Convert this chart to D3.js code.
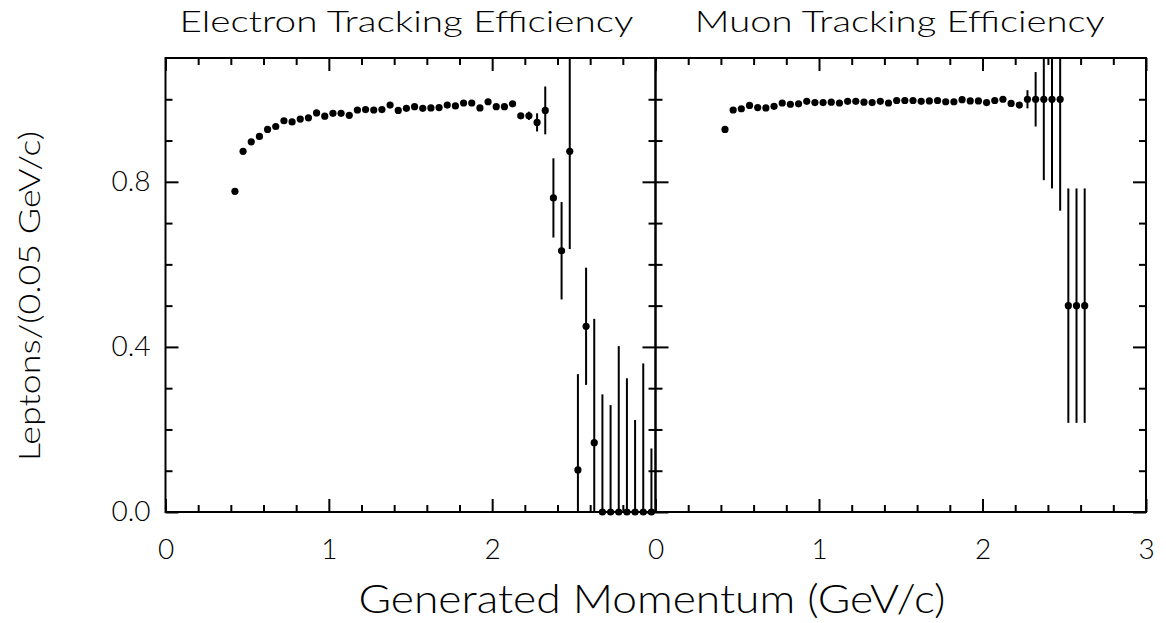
<!DOCTYPE html>
<html>
<head>
<meta charset="utf-8">
<script src="https://cdn.jsdelivr.net/npm/d3@7"></script>
<style>
  html, body { margin: 0; padding: 0; background: #fff; }
  svg { display: block; }
  text { font-family: Lato, "Open Sans", "DejaVu Sans", sans-serif; font-weight: 300; fill: #000; }
  .tick line { stroke: #000; stroke-width: 2; }
</style>
</head>
<body>
<svg id="chart" width="1166" height="623"></svg>
<script>
// Bin centres, momentum in GeV/c (bins of 0.05 GeV/c)
const electronP = [0.425,0.475,0.525,0.575,0.625,0.675,0.725,0.775,0.825,0.875,0.925,0.975,
  1.025,1.075,1.125,1.175,1.225,1.275,1.325,1.375,1.425,1.475,1.525,1.575,1.625,1.675,1.725,
  1.775,1.825,1.875,1.925,1.975,2.025,2.075,2.125,2.175,2.225,2.275,2.325,2.375,2.425,2.475,
  2.525,2.575,2.625,2.675,2.725,2.775,2.825,2.875,2.925,2.975];
const electronEff = [0.777,0.874,0.897,0.910,0.927,0.934,0.948,0.945,0.952,0.955,0.967,0.959,
  0.966,0.966,0.961,0.974,0.975,0.974,0.975,0.986,0.973,0.978,0.982,0.978,0.979,0.980,0.986,
  0.984,0.991,0.991,0.979,0.994,0.982,0.982,0.989,0.960,0.960,0.944,0.973,0.761,0.633,0.874,
  0.102,0.450,0.168,0,0,0,0,0,0,0];
const electronErr = [0.003,0.003,0.003,0.003,0.003,0.003,0.003,0.003,0.003,0.003,0.003,0.003,
  0.003,0.003,0.003,0.003,0.003,0.003,0.003,0.003,0.003,0.003,0.003,0.003,0.003,0.003,0.003,
  0.003,0.003,0.003,0.003,0.003,0.003,0.003,0.004,0.006,0.010,0.022,0.058,0.096,0.118,0.237,
  0.232,0.142,0.300,0.285,0.259,0.402,0.324,0.223,0.360,0.154];

const muonP = [0.425,0.475,0.525,0.575,0.625,0.675,0.725,0.775,0.825,0.875,0.925,0.975,
  1.025,1.075,1.125,1.175,1.225,1.275,1.325,1.375,1.425,1.475,1.525,1.575,1.625,1.675,1.725,
  1.775,1.825,1.875,1.925,1.975,2.025,2.075,2.125,2.175,2.225,2.275,2.325,2.375,2.425,2.475,
  2.525,2.575,2.625];
const muonEff = [0.927,0.974,0.977,0.985,0.980,0.979,0.983,0.991,0.988,0.989,0.995,0.992,
  0.992,0.993,0.991,0.995,0.995,0.993,0.992,0.995,0.991,0.997,0.997,0.997,0.995,0.996,0.997,
  0.994,0.994,0.999,0.996,0.996,0.992,0.997,1.000,0.990,0.986,1.000,1.000,1.000,1.000,1.000,
  0.500,0.500,0.500];
const muonErr = [0.003,0.002,0.002,0.002,0.002,0.002,0.002,0.002,0.002,0.002,0.002,0.002,
  0.002,0.002,0.002,0.002,0.002,0.002,0.002,0.002,0.002,0.002,0.002,0.002,0.002,0.002,0.002,
  0.002,0.002,0.002,0.002,0.002,0.003,0.003,0.003,0.005,0.006,0.022,0.066,0.196,0.216,0.270,
  0.284,0.284,0.284];

const panelTitles = ["Electron Tracking Efficiency", "Muon Tracking Efficiency"];
const xTickLabels = [["0","1","2"], ["0","1","2","3"]];
const yTickValues = [0, 0.4, 0.8];
const yMinorValues = [0,0.1,0.2,0.3,0.4,0.5,0.6,0.7,0.8,0.9,1.0];
const xAxisTitle = "Generated Momentum (GeV/c)";
const yAxisTitle = "Leptons/(0.05 GeV/c)";

const svg = d3.select("#chart");
const frameTop = 58, frameBottom = 512;
const panels = [
  { left: 165.5, right: 655.5, p: electronP, eff: electronEff, err: electronErr },
  { left: 655.5, right: 1146,  p: muonP,     eff: muonEff,     err: muonErr }
];
const yDomain = [0, 1.1];
const y = d3.scaleLinear().domain(yDomain).range([frameBottom, frameTop]);

panels.forEach((pan, i) => {
  const x = d3.scaleLinear().domain([0, 3]).range([pan.left, pan.right]);
  const g = svg.append("g");
  const majorX = d3.range(0, 4, 1);
  const minorX = d3.range(0, 3.01, 0.2).filter(v => Math.abs(v - Math.round(v)) > 1e-6);
  const minorY = yMinorValues.filter(v => !yTickValues.some(t => Math.abs(t - v) < 1e-6));

  // bottom axis: inward ticks, labels below
  g.append("g").attr("transform", `translate(0,${frameBottom})`)
    .call(d3.axisBottom(x).tickValues(minorX).tickSize(-7).tickSizeOuter(0).tickFormat(""));
  const labels = xTickLabels[i];
  const bxMaj = g.append("g").attr("transform", `translate(0,${frameBottom})`)
    .call(d3.axisBottom(x).tickValues(majorX).tickSize(-13).tickSizeOuter(0).tickPadding(27)
      .tickFormat((d, k) => labels[k] !== undefined ? labels[k] : ""));
  bxMaj.selectAll("text").style("font-size", "28px").attr("fill", "#000");

  // top axis: inward ticks
  g.append("g").attr("transform", `translate(0,${frameTop})`)
    .call(d3.axisTop(x).tickValues(minorX).tickSize(-7).tickSizeOuter(0).tickFormat(""));
  g.append("g").attr("transform", `translate(0,${frameTop})`)
    .call(d3.axisTop(x).tickValues(majorX).tickSize(-13).tickSizeOuter(0).tickFormat(""));

  // left axis
  g.append("g").attr("transform", `translate(${pan.left},0)`)
    .call(d3.axisLeft(y).tickValues(minorY).tickSize(-7).tickSizeOuter(0).tickFormat(""));
  const ly = g.append("g").attr("transform", `translate(${pan.left},0)`)
    .call(d3.axisLeft(y).tickValues(yTickValues).tickSize(-13).tickSizeOuter(0).tickPadding(15)
      .tickFormat(i === 0 ? d3.format(".1f") : ""));
  ly.selectAll("text").style("font-size", "28px").attr("fill", "#000");

  // right axis
  g.append("g").attr("transform", `translate(${pan.right},0)`)
    .call(d3.axisRight(y).tickValues(minorY).tickSize(-7).tickSizeOuter(0).tickFormat(""));
  g.append("g").attr("transform", `translate(${pan.right},0)`)
    .call(d3.axisRight(y).tickValues(yTickValues).tickSize(-13).tickSizeOuter(0).tickFormat(""));

  g.selectAll(".domain").remove();
  g.selectAll(".tick text").attr("font-family", null);

  // frame
  g.append("rect")
    .attr("x", pan.left).attr("y", frameTop)
    .attr("width", pan.right - pan.left).attr("height", frameBottom - frameTop)
    .attr("fill", "none").attr("stroke", "#000").attr("stroke-width", 2);

  const data = pan.p.map((p, k) => ({ p, v: pan.eff[k], e: pan.err[k] }));
  const clampY = v => Math.max(yDomain[0], Math.min(yDomain[1], v));

  // error bars
  g.append("g").selectAll("line").data(data).join("line")
    .attr("x1", d => x(d.p)).attr("x2", d => x(d.p))
    .attr("y1", d => y(clampY(d.v - d.e))).attr("y2", d => y(clampY(d.v + d.e)))
    .attr("stroke", "#000").attr("stroke-width", 2);

  // points
  g.append("g").selectAll("circle").data(data).join("circle")
    .attr("cx", d => x(d.p)).attr("cy", d => y(d.v)).attr("r", 3.6).attr("fill", "#000");

  // panel title
  svg.append("text")
    .attr("x", (pan.left + pan.right) / 2 + (i === 0 ? -4 : -1)).attr("y", 32)
    .attr("text-anchor", "middle").style("font-size", "30px")
    .attr("textLength", i === 0 ? 454 : 410).attr("lengthAdjust", "spacingAndGlyphs")
    .text(panelTitles[i]);
});

// axis titles
svg.append("text")
  .attr("x", 652).attr("y", 613)
  .attr("text-anchor", "middle").style("font-size", "40px")
  .attr("textLength", 587).attr("lengthAdjust", "spacingAndGlyphs")
  .text(xAxisTitle);

svg.append("text")
  .attr("transform", "translate(40,296) rotate(-90)")
  .attr("text-anchor", "middle").style("font-size", "30px")
  .attr("textLength", 330).attr("lengthAdjust", "spacingAndGlyphs")
  .text(yAxisTitle);
</script>
</body>
</html>
